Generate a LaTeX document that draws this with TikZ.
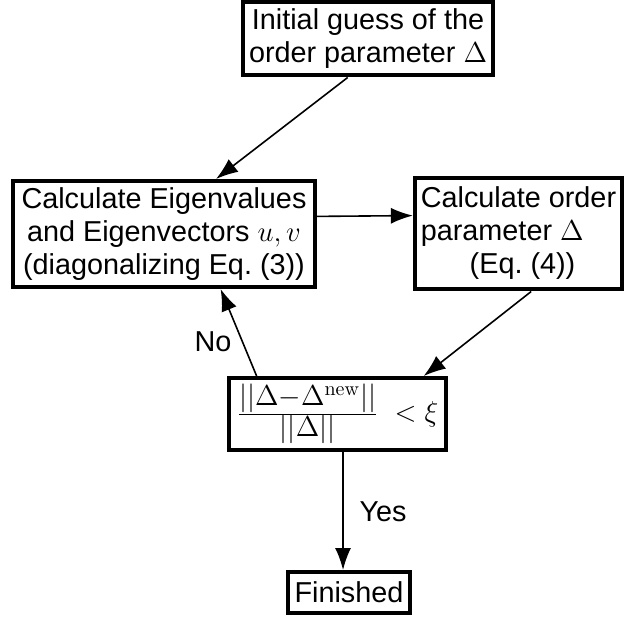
\documentclass[tikz,border=0pt]{standalone}
\usepackage[no-math]{fontspec}
\setmainfont{Liberation Sans}
\usetikzlibrary{calc,arrows.meta}
\tikzset{flowbox/.style={draw,line width=2pt,inner sep=3pt,align=center},
  flowarrow/.style={-{Latex[length=11pt,width=8pt]},line width=0.8pt}}

\begin{document}
\begin{tikzpicture}[x=0.5pt,y=-0.5pt,font=\fontsize{14.4}{16.5}\selectfont]
  \useasboundingbox (0,0) rectangle (624,619);

  \node [flowbox,minimum width=125pt,minimum height=36.5pt] (guess) at (368,39)
    {Initial guess of the\\order parameter $\Delta$};
  \node [flowbox,minimum width=151pt,minimum height=53pt] (eigen) at (164,234)
    {Calculate Eigenvalues\\and Eigenvectors $u,v$\\(diagonalizing Eq.~(3))};
  \node [flowbox,minimum width=103.5pt,minimum height=53pt] (order) at (518.5,234)
    {\begin{tabular}{@{}l@{}}Calculate order\\parameter $\Delta$\\
     \multicolumn{1}{@{}c@{}}{\hspace{4pt}(Eq.~(4))}\end{tabular}};
  \node [flowbox,minimum width=108.5pt,minimum height=36pt,inner xsep=1pt,inner ysep=0pt] (check) at (337.5,414)
    {$\frac{\textstyle||\Delta{-}\Delta^{\mathrm{new}}||}{\textstyle||\Delta||}\;<\xi$};
  \node [flowbox,minimum width=61pt,minimum height=20.5pt,inner sep=1pt] (done) at (349,592.5)
    {Finished};

  \coordinate (yes) at ($(check.south west)!0.525!(check.south east)$);

  \draw [flowarrow] ($(guess.south west)!0.42!(guess.south east)$) -- ($(eigen.north west)!0.67!(eigen.north east)$);
  \draw [flowarrow] ($(eigen.north east)!0.34!(eigen.south east)$) -- ($(order.north west)!0.34!(order.south west)$);
  \draw [flowarrow] ($(order.south west)!0.56!(order.south east)$) -- ($(check.north west)!0.89!(check.north east)$);
  \draw [flowarrow] ($(check.north west)!0.134!(check.north east)$) -- ($(eigen.south west)!0.685!(eigen.south east)$);
  \draw [flowarrow] (yes) -- (yes |- done.north);

  \node (no) at (213,342) {No};
  \node (yeslabel) at (383,512) {Yes};
\end{tikzpicture}
\end{document}
